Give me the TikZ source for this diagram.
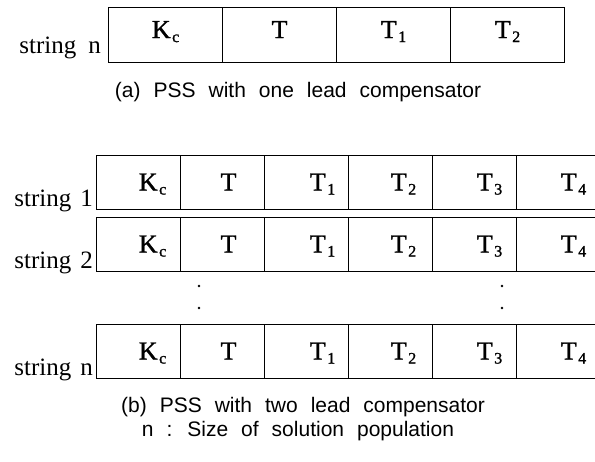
\documentclass[tikz,border=0pt]{standalone}
\usepackage{fontspec}
\setmainfont{Liberation Serif}
\newfontfamily\capfont{Liberation Sans}
\newfontfamily\genefont[FakeBold=1.3]{Liberation Serif}
% lowered upright index, as in K_c or T_1
\newcommand\lowidx[1]{\kern1.5pt\raisebox{-4pt}{\fontsize{16}{16}\selectfont #1}}
\begin{document}
\begin{tikzpicture}[x=1pt,y=1pt,
  cellbox/.style={draw, line width=1.1pt, minimum height=54pt, inner sep=0pt, anchor=north west},
  celltext/.style={anchor=base, font=\genefont\fontsize{26}{26}\selectfont, inner sep=0pt},
  rowlabel/.style={anchor=base east, font=\fontsize{25}{25}\selectfont, inner sep=0pt},
  captext/.style={anchor=base, font=\capfont\fontsize{21}{21}\selectfont, inner sep=0pt},
  vdot/.style={circle, fill, inner sep=0pt, minimum size=2.6pt}]
\useasboundingbox (0,0) rectangle (595,462);

% (a) one lead compensator: a single string of four genes
\foreach \i/\t in {0/{K\lowidx{c}},1/{T},2/{T\lowidx{1}},3/{T\lowidx{2}}} {
  \node[cellbox, minimum width=114pt, minimum height=55pt] (a\i) at (108+114*\i,455) {};
  \node[celltext] (at\i) at ([yshift=-3pt]a\i.center) {\t};
}
\node[rowlabel] (alabel) at ([xshift=-7pt,yshift=10pt]a0.south west) {string\hspace{12pt}n};
\node[captext] (capa) at (298,364) {\spaceskip=13pt (a) PSS with one lead compensator};

% (b) two lead compensators: strings 1, 2, ..., n of six genes
\foreach \r/\top/\lab in {1/307/1, 2/245/2, n/138/n} {
  \foreach \i/\t/\dx in {0/{K\lowidx{c}}/14, 1/{T}/6, 2/{T\lowidx{1}}/16, 3/{T\lowidx{2}}/13, 4/{T\lowidx{3}}/15, 5/{T\lowidx{4}}/15} {
    \node[cellbox, minimum width=84pt] (b\r c\i) at (96+84*\i,\top) {};
    \node[celltext] (b\r t\i) at ([xshift=\dx pt,yshift=-8pt]b\r c\i.center) {\t};
  }
  \node[rowlabel] (b\r label) at ([xshift=-3pt,yshift=4pt]b\r c0.south west) {string\hspace{9pt}\lab};
}

% vertical ellipsis between string 2 and string n
\node[vdot] (d1) at (199,176) {};
\node[vdot] (d2) at (199,154) {};
\node[vdot] (d3) at (502,176) {};
\node[vdot] (d4) at (502,154) {};

\node[captext] (capb) at (303,49) {\spaceskip=13pt (b) PSS with two lead compensator};
\node[captext] (capn) at (298,25) {\spaceskip=13pt n : Size of solution population};
\end{tikzpicture}
\end{document}
